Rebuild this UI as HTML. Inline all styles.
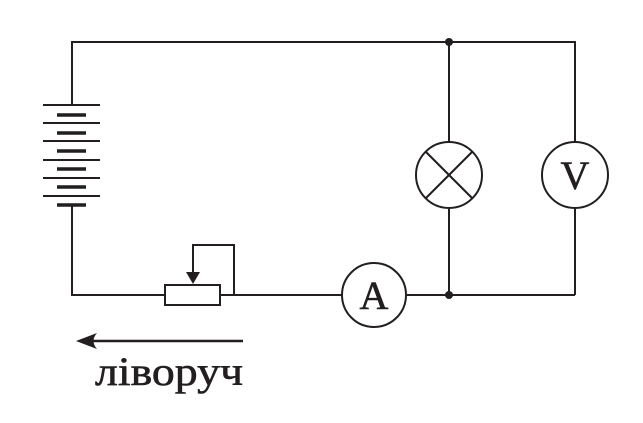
<!DOCTYPE html>
<html><head><style>body{margin:0;background:#fff}</style></head><body>
<svg width="643" height="418" xmlns="http://www.w3.org/2000/svg">
<g stroke="#231f20" stroke-width="2" fill="none">
<polyline points="72,105 72,42 575,42 575,142"/>
<line x1="575" y1="208" x2="575" y2="295"/>
<line x1="575" y1="295" x2="407" y2="295"/>
<line x1="449" y1="42" x2="449" y2="142"/>
<line x1="449" y1="208" x2="449" y2="295"/>
<polyline points="72,205 72,295 165,295"/>
<polyline points="220,295 234,295 234,245 193,245 193,272"/>
<line x1="234" y1="295" x2="342" y2="295"/>
<rect x="165" y="285" width="55" height="20"/>
<circle cx="449" cy="175" r="33"/>
<line x1="426" y1="152" x2="472" y2="198"/>
<line x1="472" y1="152" x2="426" y2="198"/>
<circle cx="575" cy="175" r="33"/>
<circle cx="374" cy="295" r="32"/>
<g stroke-width="2"><line x1="43" y1="105" x2="100" y2="105"/><line x1="43" y1="123" x2="100" y2="123"/><line x1="43" y1="141" x2="100" y2="141"/><line x1="43" y1="160" x2="100" y2="160"/><line x1="43" y1="178" x2="100" y2="178"/><line x1="43" y1="196" x2="100" y2="196"/></g>
<g stroke-width="3.5"><line x1="57" y1="115" x2="86" y2="115"/><line x1="57" y1="133" x2="86" y2="133"/><line x1="57" y1="151" x2="86" y2="151"/><line x1="57" y1="169" x2="86" y2="169"/><line x1="57" y1="187" x2="86" y2="187"/><line x1="57" y1="205" x2="86" y2="205"/></g>
<line x1="85" y1="341" x2="243" y2="341" stroke-width="2.5"/>
</g>
<polygon points="186,272 200,272 193,284" fill="#231f20"/>
<path d="M76,341 L97,333 Q90,341 97,349 Z" fill="#231f20"/>
<circle cx="449" cy="42" r="4" fill="#231f20"/>
<circle cx="449" cy="295" r="4" fill="#231f20"/>
<g font-family="Liberation Serif, serif" fill="#231f20" text-anchor="middle" stroke="#231f20" stroke-width="0.6">
<text x="575" y="189" font-size="40">V</text>
<text x="374" y="309" font-size="40">A</text>
<text x="169" y="385" font-size="40" textLength="148" lengthAdjust="spacingAndGlyphs">ліворуч</text>
</g>
</svg>
</body></html>
